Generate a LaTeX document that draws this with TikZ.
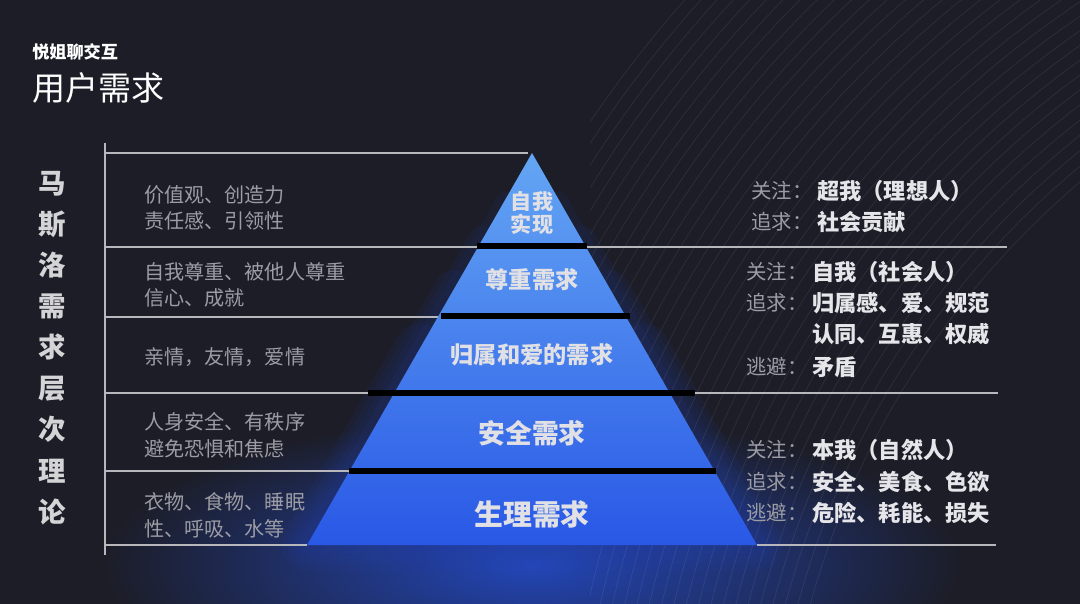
\documentclass[tikz,border=0pt]{standalone}
\usepackage{fontspec}
\setmainfont{Noto Sans CJK SC}
\usepackage{xcolor}
\usepackage{tikz}
\usetikzlibrary{positioning, calc}
\definecolor{bgdark}{HTML}{1C1D27}
\definecolor{rulegray}{HTML}{B8B8BC}
\definecolor{descgray}{HTML}{9C9CA4}
\definecolor{textlight}{HTML}{E6E6EA}
\definecolor{pyrtop}{HTML}{64A6F4}
\definecolor{pyrbot}{HTML}{2958E6}
\definecolor{glow}{HTML}{2346B8}

\begin{document}
\begin{tikzpicture}[x=0.025cm, y=-0.025cm,
    arcline/.style={white, opacity=0.08, line width=0.5pt},
    rule/.style={rulegray, line width=1pt},
    sep/.style={black, line width=3.8pt},
    desc/.style={anchor=west, inner sep=0pt, text=descgray, align=left, font=\fontsize{14.3}{19}\selectfont},
    level/.style={inner sep=0pt, text=textlight!95!gray, align=center},
    lbl/.style={anchor=west, inner sep=0pt, text=descgray, font=\fontsize{14.5}{18}\selectfont},
    val/.style={anchor=west, inner sep=0pt, text=textlight, font=\fontsize{15.8}{18}\selectfont\bfseries}
  ]

    \useasboundingbox (0,0) rectangle (1080,604);
    \clip (0,0) rectangle (1080,604);
    \fill[bgdark] (0,0) rectangle (1080,604);

    \coordinate (apex) at (532,153);
    \coordinate (bl) at (307,545);
    \coordinate (br) at (757,545);

    % glow
    \shade[inner color=glow, outer color=bgdark] (532,565) ellipse (430 and 150);
    \foreach \w/\t in {36/0.5, 28/0.35, 20/0.22, 12/0.12}
      \draw[glow, opacity=0.08, line width=\w pt, line join=round, line cap=round]
        ($(apex)!\t!(br)$) -- (br) -- (bl) -- ($(apex)!\t!(bl)$);

    \begin{scope}
      \clip (590,0) rectangle (1080,604);
      \foreach \r in {850,862,...,1260}
        \draw[arcline] (1630,830) circle [radius=\r];
    \end{scope}

    \draw[rule] (105,143) -- (105,555);
    \draw[rule] (105,153) -- (528,153);
    \draw[rule] (105,247) -- (480,247) (585,247) -- (1007,247);
    \draw[rule] (105,317) -- (440,317);
    \draw[rule] (105,393) -- (395,393) (670,393) -- (998,393);
    \draw[rule] (105,471) -- (350,471);
    \draw[rule] (105,545) -- (bl) (br) -- (996,545);

    \shade[top color=pyrtop, bottom color=pyrbot] (apex) -- (br) -- (bl) -- cycle;

    \draw[sep] (477,246) -- (587,246);
    \draw[sep] (441,316) -- (630,316);
    \draw[sep] (368,393) -- (695,393);
    \draw[sep] (349,471) -- (716,471);

    \node[anchor=west, inner sep=0pt, text=white, font=\fontsize{12.2}{14}\selectfont\bfseries] (brand) at (32,52) {悦姐聊交互};
    \node[anchor=west, inner sep=0pt, text=white, font=\fontsize{23.5}{26}\selectfont] (title) at (32,88) {用户需求};

    \node[inner sep=0pt, text=textlight!92!black, align=center, font=\fontsize{19.5}{29.2}\selectfont\bfseries] (theory) at (52,348)
      {马\\斯\\洛\\需\\求\\层\\次\\理\\论};

    \node[desc] (d5) at (144,208) {价值观、创造力\\责任感、引领性};
    \node[desc] (d4) at (144,285) {自我尊重、被他人尊重\\信心、成就};
    \node[desc] (d3) at (144,357) {亲情，友情，爱情};
    \node[desc] (d2) at (144,435) {人身安全、有秩序\\避免恐惧和焦虑};
    \node[desc] (d1) at (144,515) {衣物、食物、睡眠\\性、呼吸、水等};

    \node[level, font=\fontsize{15}{16.5}\selectfont\bfseries] (l5) at (532,213) {自我\\实现};
    \node[level, font=\fontsize{16.5}{18}\selectfont\bfseries] (l4) at (532,280) {尊重需求};
    \node[level, font=\fontsize{16.5}{18}\selectfont\bfseries] (l3) at (532,355) {归属和爱的需求};
    \node[level, font=\fontsize{19}{21}\selectfont\bfseries] (l2) at (532,433) {安全需求};
    \node[level, font=\fontsize{20.5}{23}\selectfont\bfseries] (l1) at (532,514) {生理需求};

    \node[lbl] (focus1) at (751,191) {关注：};
    \node[val, right=3pt of focus1] (focus1v) {超我（理想人）};
    \node[lbl] (seek1) at (751,222) {追求：};
    \node[val, right=3pt of seek1] (seek1v) {社会贡献};

    \node[lbl] (focus2) at (746,272) {关注：};
    \node[val, right=3pt of focus2] (focus2v) {自我（社会人）};
    \node[lbl] (seek2) at (746,303) {追求：};
    \node[val, right=3pt of seek2] (seek2v) {归属感、爱、规范};
    \node[val] (seek2w) at ([yshift=-22pt]seek2v.west) {认同、互惠、权威};
    \node[lbl] (avoid2) at (746,367) {逃避：};
    \node[val, right=3pt of avoid2] (avoid2v) {矛盾};

    \node[lbl] (focus3) at (746,450) {关注：};
    \node[val, right=3pt of focus3] (focus3v) {本我（自然人）};
    \node[lbl] (seek3) at (746,482) {追求：};
    \node[val, right=3pt of seek3] (seek3v) {安全、美食、色欲};
    \node[lbl] (avoid3) at (746,513) {逃避：};
    \node[val, right=3pt of avoid3] (avoid3v) {危险、耗能、损失};

  \end{tikzpicture}
\end{document}
